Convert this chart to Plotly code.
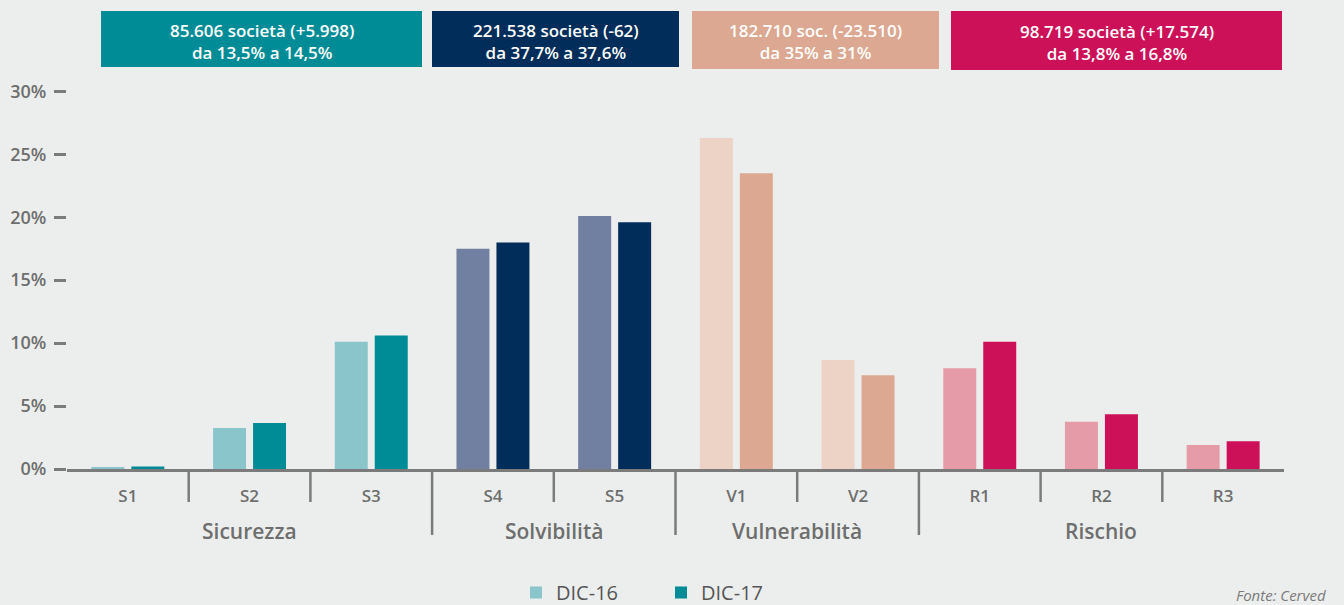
import plotly.graph_objects as go

# ---- data ----
categories = ["S1", "S2", "S3", "S4", "S5", "V1", "V2", "R1", "R2", "R3"]
groups = ["Sicurezza", "Solvibilità", "Vulnerabilità", "Rischio"]
group_of = [0, 0, 0, 1, 1, 2, 2, 3, 3, 3]
dic16 = [0.15, 3.25, 10.1, 17.5, 20.1, 26.3, 8.65, 8.0, 3.75, 1.9]
dic17 = [0.2, 3.65, 10.6, 18.0, 19.6, 23.5, 7.45, 10.1, 4.35, 2.2]
series_names = ["DIC-16", "DIC-17"]
box_texts = [
    "85.606 società (+5.998)<br>da 13,5% a 14,5%",
    "221.538 società (-62)<br>da 37,7% a 37,6%",
    "182.710 soc. (-23.510)<br>da 35% a 31%",
    "98.719 società (+17.574)<br>da 13,8% a 16,8%",
]
y_ticks = [0, 5, 10, 15, 20, 25, 30]
y_tick_labels = ["0%", "5%", "10%", "15%", "20%", "25%", "30%"]
source = "Fonte: Cerved"

# ---- style ----
light_cols = ["#8BC5CC", "#717FA0", "#EDD2C6", "#E59CA8"]
dark_cols = ["#008C96", "#002D5A", "#DCA891", "#CD1159"]
BG = "#ECEEED"
GREY = "#6E6E6E"
LINE = "#7B7B7B"
FONT = "Open Sans"

W, H = 1344, 605
L, R, T, B = 67, 60, 85, 136
pw = W - L - R
ph = H - T - B


def px_x(p):
    return (p - L) / pw


def px_y(p):
    return (H - B - p) / ph


xs = list(range(len(categories)))

fig = go.Figure()
fig.add_trace(go.Bar(
    x=xs, y=dic16, name=series_names[0],
    marker=dict(color=[light_cols[g] for g in group_of], line=dict(width=0)),
))
fig.add_trace(go.Bar(
    x=xs, y=dic17, name=series_names[1],
    marker=dict(color=[dark_cols[g] for g in group_of], line=dict(width=0)),
))

shapes = []
# category boundary ticks and group dividers
for i in range(len(categories) - 1):
    b = i + 0.5
    is_div = group_of[i] != group_of[i + 1]
    shapes.append(dict(
        type="line", xref="x", yref="paper", x0=b, x1=b,
        y0=0, y1=px_y(535 if is_div else 502),
        line=dict(color=LINE, width=2.5),
    ))

annotations = []
# group labels
for gi, g in enumerate(groups):
    idx = [i for i, k in enumerate(group_of) if k == gi]
    cx = (idx[0] + idx[-1]) / 2
    annotations.append(dict(
        x=cx, y=px_y(531), xref="x", yref="paper", text=g, showarrow=False,
        font=dict(family=FONT, size=21, color=GREY, weight=600),
        xanchor="center", yanchor="middle",
    ))

# header boxes: rectangles as shapes, text as annotations
boxes = [(101, 422, 11, 67), (432, 679, 11, 67), (692, 939, 11, 69), (951, 1282, 11, 70)]
for (x0, x1, y0, y1), txt, col in zip(boxes, box_texts, dark_cols):
    shapes.append(dict(
        type="rect", xref="paper", yref="paper",
        x0=px_x(x0), x1=px_x(x1), y0=px_y(y1), y1=px_y(y0),
        fillcolor=col, line=dict(width=0), layer="below",
    ))
    annotations.append(dict(
        x=px_x((x0 + x1) / 2), y=px_y((y0 + y1) / 2 + 2), xref="paper", yref="paper",
        text=txt, showarrow=False, align="center",
        font=dict(family=FONT, size=17, color="white", weight=600),
        xanchor="center", yanchor="middle",
    ))

annotations.append(dict(
    x=px_x(1234), y=px_y(595), xref="paper", yref="paper", text=f"<i>{source}</i>",
    showarrow=False, xanchor="left", yanchor="middle",
    font=dict(family=FONT, size=15, color="#7A7A7A"),
))

fig.update_layout(
    width=W, height=H,
    margin=dict(l=L, r=R, t=T, b=B, autoexpand=False),
    paper_bgcolor=BG, plot_bgcolor=BG,
    barmode="group", bargap=0.343, bargroupgap=0.175,
    showlegend=True,
    legend=dict(
        orientation="h", x=px_x(516), y=px_y(573), xanchor="left", yanchor="top",
        font=dict(family=FONT, size=20, color="#555555"),
        bgcolor="rgba(0,0,0,0)", entrywidth=100, entrywidthmode="pixels",
    ),
    shapes=shapes,
    annotations=annotations,
    font=dict(family=FONT),
)
fig.update_xaxes(
    range=[-0.5, 9.5], tickmode="array", tickvals=xs, ticktext=categories,
    showgrid=False, zeroline=False, showline=True, linecolor=LINE, linewidth=3,
    ticks="", ticklabelstandoff=10,
    tickfont=dict(family=FONT, size=17, color=GREY, weight=600),
    fixedrange=True,
)
fig.update_yaxes(
    range=[0, 30.5], tickmode="array", tickvals=y_ticks, ticktext=y_tick_labels,
    showgrid=False, zeroline=False, showline=False,
    ticks="outside", ticklen=12, tickwidth=3, tickcolor=LINE, ticklabelstandoff=4,
    tickfont=dict(family=FONT, size=18, color=GREY, weight=600),
    fixedrange=True,
)

fig.write_html(
    "out.html",
    config={"displayModeBar": False},
    post_script="document.body.style.margin='0';document.body.style.background='" + BG + "';",
)
